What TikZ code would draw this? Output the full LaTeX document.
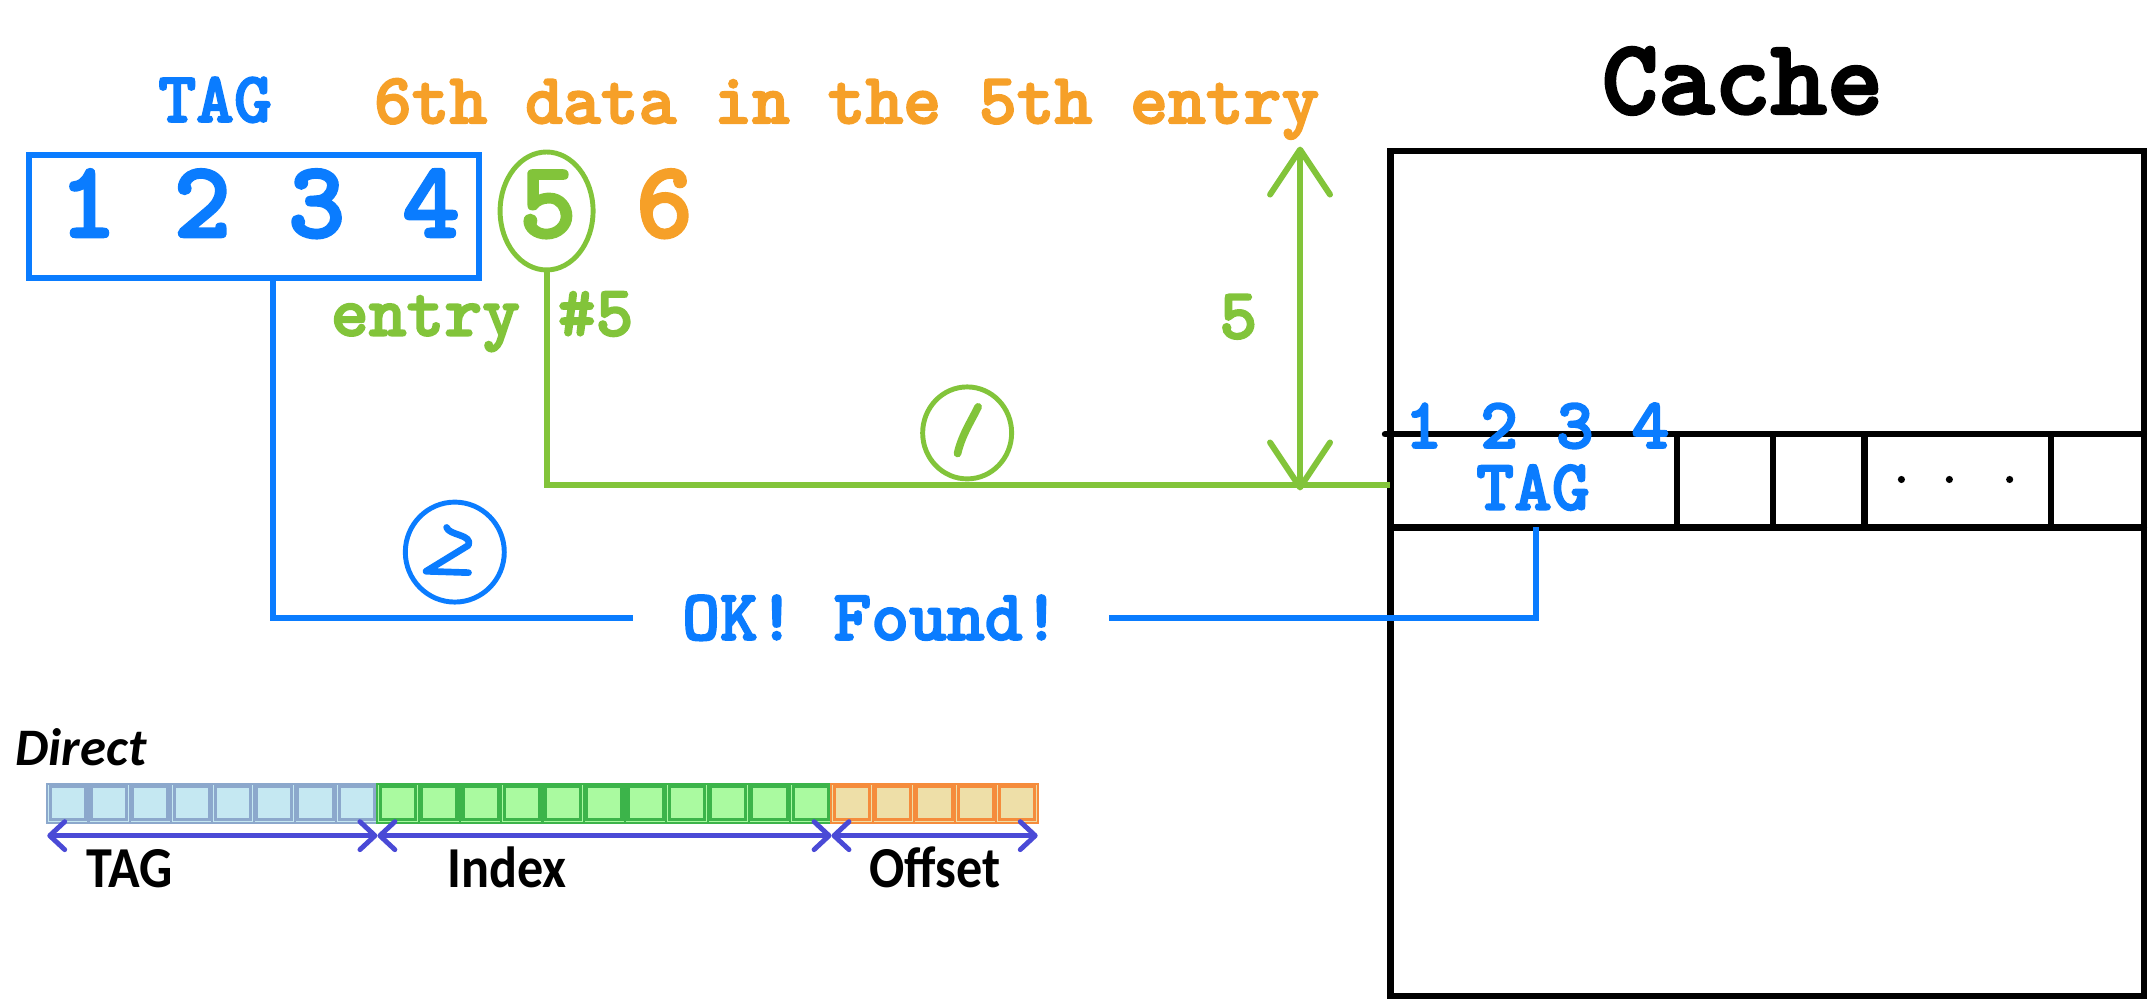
\documentclass[tikz,border=0pt]{standalone}
\usepackage{fontspec}
\newfontfamily\carlito{Carlito}
\newfontfamily\carlitoc[FakeStretch=0.9]{Carlito}
\newfontfamily\bmono[FakeBold=2.5]{lmmonolt10-bold.otf}
\usetikzlibrary{arrows.meta,shapes.geometric}
\definecolor{cblue}{RGB}{10,124,255}
\definecolor{cgreen}{RGB}{130,196,58}
\definecolor{corange}{RGB}{246,160,40}
\definecolor{tagfill}{RGB}{197,232,242}
\definecolor{tagline}{RGB}{140,168,204}
\definecolor{idxfill}{RGB}{170,250,160}
\definecolor{idxline}{RGB}{60,180,74}
\definecolor{offfill}{RGB}{238,223,168}
\definecolor{offline}{RGB}{245,140,60}
\definecolor{arrowblue}{RGB}{74,74,214}
\tikzset{
  mono/.style={font=\bmono\fontsize{20.5}{24}\selectfont, inner sep=0pt, anchor=base},
  bigmono/.style={font=\bmono\fontsize{31}{35}\selectfont, inner sep=0pt, anchor=base},
  cal/.style={font=\carlitoc\bfseries\fontsize{16.5}{19}\selectfont, inner sep=0pt, anchor=base},
  wire/.style={line width=1.7pt},
  cacheline/.style={line width=1.8pt, black, line cap=round},
  ring/.style={ellipse, draw, line width=1.4pt, inner sep=0pt},
  hand/.style={line width=1.9pt, line cap=round, line join=round},
  barb/.style={arrowblue, line width=1.4pt, {Straight Barb[length=1.5mm,width=2.8mm,round]}-{Straight Barb[length=1.5mm,width=2.8mm,round]}},
}
\begin{document}
\begin{tikzpicture}[x=0.0137cm, y=-0.0137cm]
\useasboundingbox (0,0) rectangle (1568,730);

% ---- address: tag box and digits
\node (tagbox) [draw=cblue, line width=1.7pt, minimum width=4.507cm, minimum height=1.233cm, inner sep=0pt] at (185.5,158) {};
\node (tagdigits) [bigmono, text=cblue] at (189.5,173) {1 2 3 4};
\node (taglabel) [mono, text=cblue] at (157,89) {TAG};
\node (offlabel) [mono, text=corange] at (618,90) {6th data in the 5th entry};
\node (idx5) [bigmono, text=cgreen] at (400,173) {5};
\node (off6) [bigmono, text=corange] at (485,173) {6};
\node (e5) [ring, draw=cgreen, minimum width=0.93cm, minimum height=1.18cm] at (399,154) {};
\node (entrylabel) [mono, text=cgreen] at (352,245) {entry \#5};

% ---- step circles
\node (c1) [ring, draw=cgreen, minimum width=0.89cm, minimum height=0.92cm] at (706,316) {};
\draw[hand, cgreen, line width=2.2pt] (714,297) .. controls (708,309) and (702,318) .. (699,331);
\node (c2) [ring, draw=cblue, minimum width=0.99cm, minimum height=1.0cm] at (332,403) {};
\draw[hand, cblue] (326,385) .. controls (328,391) and (345,390) .. (342,398) -- (311,417) -- (342,418);

% ---- cache
\node (cachetitle) [font=\bmono\fontsize{30.5}{34}\selectfont, inner sep=0pt, anchor=base] at (1272,83) {Cache};
\coordinate (cTL) at (1015,110);
\coordinate (cBR) at (1565,727);
\draw[cacheline] (cTL) rectangle (cBR);
\draw[cacheline] (1011,317) -- (1565,317);
\draw[cacheline] (1015,385) -- (1565,385);
\foreach \xx in {1224,1294,1361,1497} \draw[cacheline] (\xx,317) -- (\xx,385);
\foreach \xx in {1388,1423,1467} \fill (\xx,350) circle[radius=2.6];
\node (rowdigits) [mono, text=cblue] at (1122,327) {1 2 3 4};
\node (rowtag) [mono, text=cblue] at (1119,372) {TAG};

% ---- green index path and arrow
\coordinate (gcorner) at (e5.south |- 0,354);
\coordinate (gend) at (1015,354);
\draw[wire, cgreen] (e5.south) -- (gcorner) -- (gend);
\coordinate (atop) at (949,107);
\coordinate (abot) at (949,358);
\draw[wire, cgreen, {Straight Barb[length=4.5mm,width=6mm,round]}-{Straight Barb[length=4.5mm,width=6mm,round]}] (abot) -- (atop);
\node (five) [mono, text=cgreen] at (904,247) {5};

% ---- blue tag compare path
\node (ok) [mono, text=cblue, anchor=center, inner xsep=0.48cm] at (636,451) {OK! Found!};
\coordinate (b1) at (199.5,203);
\coordinate (ct) at (1121,385);
\draw[wire, cblue] (b1) |- (ok.west);
\draw[wire, cblue] (ok.east) -| (ct);

% ---- direct mapped address format
\node (direct) [font=\carlito\bfseries\itshape\fontsize{15}{18}\selectfont, inner sep=0pt, anchor=base west] at (11,559) {Direct};
\def\pitch{30.125}
\foreach \i in {0,...,23} {
  \pgfmathsetmacro{\xa}{34.5+\i*\pitch}
  \ifnum\i<8
    \def\fc{tagfill}\def\dc{tagline}
  \else\ifnum\i<19
    \def\fc{idxfill}\def\dc{idxline}
  \else
    \def\fc{offfill}\def\dc{offline}
  \fi\fi
  \draw[fill=\fc, draw=\dc, line width=0.6pt] (\xa,572) rectangle ++(\pitch,28.5);
  \draw[draw=\dc, line width=0.9pt] (\xa+2.2,574.2) rectangle ++(\pitch-4.4,24.1);
}
\coordinate (f0) at (34.5,610);
\coordinate (f1) at (275.5,610);
\coordinate (f2) at (607,610);
\coordinate (f3) at (757.5,610);
\draw[barb] (f0) -- (f1);
\draw[barb] (f1) -- (f2);
\draw[barb] (f2) -- (f3);
\node (ftag) [cal] at (94.5,648) {TAG};
\node (fidx) [cal] at (370,648) {Index};
\node (foff) [cal] at (682.5,648) {Offset};
\end{tikzpicture}
\end{document}
